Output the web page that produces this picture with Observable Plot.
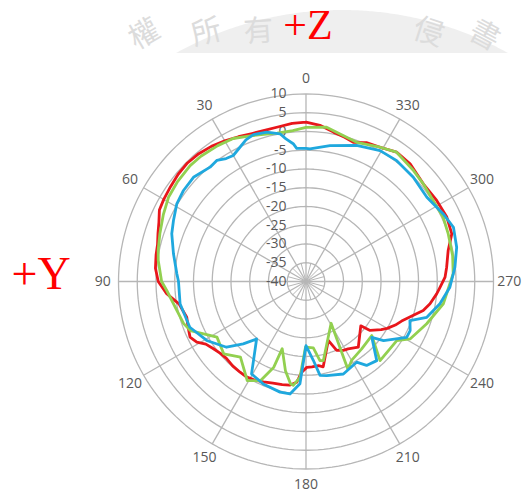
<!DOCTYPE html>
<html><head><meta charset="utf-8">
<script src="https://cdn.jsdelivr.net/npm/d3@7"></script>
<script src="https://cdn.jsdelivr.net/npm/@observablehq/plot@0.6"></script>
<style>
html,body{margin:0;padding:0;background:#fff;}
#chart{position:absolute;left:0;top:0;}
</style>
</head><body><div id="chart"></div>
<script>
// ---- data ----
const ringTicks = [-40, -35, -30, -25, -20, -15, -10, -5, 0, 5, 10];
const angleTicks = [0, 30, 60, 90, 120, 150, 180, 210, 240, 270, 300, 330];
const seriesNames = ["Series 1", "Series 2", "Series 3"];
const seriesColors = ["#e8161b", "#92d050", "#1fa8de"];
const axisTitles = ["+Z", "+Y"];
const watermarkChars = ["權", "所", "有", "侵", "書"];

const redAngle = [0,5,10,15,20,25,30,35,40,45,50,55,60,64,68,72,76,80,85,90,95,100,106.7,111,115.6,119,122,126,130,134,139,144,148,151.8,157,162,167,171,174.7,177.3,180.5,184,188.5,191.4,200.7,204,208.4,212,218.5,231,232.6,237.4,240,244,247.5,253.7,256.1,259.8,264.6,267.6,271.8,275.8,282.3,288.1,294.6,301.8,309.8,318.5,325,331.1,336.5,341.2,345,349.6,354.9,360];
const redValue = [2.5,2.3,1.9,1.8,2.0,2.6,3.3,4.0,4.5,4.7,4.5,4.1,3.8,3.5,2.3,1.5,0.8,0.6,0.3,-0.6,-2.7,-5.6,-6.8,-6.3,-5.7,-6.7,-8.5,-9.5,-10.2,-10.5,-10.2,-10.1,-10.0,-10.3,-10.9,-11.5,-11.8,-12.0,-13.0,-15.8,-17.1,-17.2,-17.3,-16.8,-23.2,-19.9,-19.1,-18.8,-17.6,-21.2,-18.5,-16.2,-15.0,-13.5,-12.4,-9.3,-7.8,-6.4,-5.0,-4.2,-2.9,-2.3,-1.2,0.9,1.3,1.0,0.7,1.9,2.1,0.9,0.4,-0.8,-0.2,0.5,1.8,2.5];

const greenAngle = [0,5,11,16,21,27,33,40,45,52,58.5,65,71.9,78,81.9,90,93.7,102.6,109,113,122,131.3,139.1,149.3,155.3,159.4,160.5,167,171.4,173,176.4,179.6,186.3,190,192.4,211,205.5,210,219.6,230.6,223.1,236.9,241.1,250.7,260.8,273,280,288.5,295.1,302.5,309.8,315.9,325,331.1,340,347,352.4,360];
const greenValue = [1.1,0.4,0.3,0.8,1.6,2.8,3.2,3.6,3.7,3.4,3.0,2.0,1.0,0.3,-0.2,-1.5,-2.8,-4.7,-5.5,-6.5,-12.0,-10.8,-13.3,-9.3,-10.9,-15.6,-21.0,-15.6,-12.4,-12.1,-14.4,-22.5,-22.2,-18.6,-18.4,-27.0,-14.0,-15.7,-16.7,-17.3,-11.1,-11.1,-8.3,-5.9,-2.9,-0.7,-0.3,0.0,0.4,0.2,0.7,1.2,2.1,0.9,-0.5,0.4,1.5,1.1];

const blueAngle = [0,4,5.3,8,10,14.7,19.7,23,26.2,30,33,36.4,40,47.2,53.4,59,65.3,70.4,78.2,86.6,90,100,111.5,120.7,129.6,134.8,139.3,149.5,157.3,166.8,171.9,176.6,180,185.3,188.5,192.4,202,212.1,215.8,221.8,229.7,232.7,241,244.8,249.4,253.5,260.6,267.7,275.5,282.8,290.2,296.2,304.9,314.2,323.1,330.5,339.6,350,358.3,360];
const blueValue = [-4.5,-4.4,-3.1,-1.6,0.0,1.2,1.6,1.0,-0.1,-1.2,-0.9,0.1,-0.2,0.9,0.7,0.2,-1.1,-2.0,-3.9,-5.5,-6.0,-5.9,-6.7,-9.2,-12.5,-16.4,-19.8,-11.4,-10.4,-9.7,-9.7,-12.7,-22.9,-18.9,-14.7,-14.3,-13.4,-14.6,-12.4,-11.7,-17.0,-14.0,-9.3,-9.3,-10.4,-6.4,-3.8,-1.6,-0.1,1.2,1.9,0.8,-0.7,-0.1,0.3,0.1,-1.3,-3.2,-4.6,-4.5];

// ---- geometry ----
const W = 529, H = 492;
const cx = 305.5, cy = 281, outerPx = 187.5;
const rMin = ringTicks[0], rMax = ringTicks[ringTicks.length - 1];
const ppu = outerPx / (rMax - rMin);
const toXY = (deg, v) => {
  const u = v - rMin, t = deg * Math.PI / 180;
  return {x: -u * Math.sin(t), y: u * Math.cos(t)};
};
// pixel -> data helpers for the decorative background
const px2x = px => (px - cx) / ppu, py2y = py => (cy - py) / ppu;

const rings = ringTicks.filter(t => t > rMin).flatMap(t =>
  d3.range(0, 361, 2).map(a => ({t, ...toXY(a, t)})));
const spokes = angleTicks.map(a => ({a, ...toXY(a, rMax)}));
const innerSpokes = d3.range(15, 360, 30).map(a => ({a, ...toXY(a, ringTicks[1])}));
const angleLabels = angleTicks.map(a => ({a, ...toXY(a, rMax + 4.2)}));

const series = [
  [redAngle, redValue], [greenAngle, greenValue], [blueAngle, blueValue]
].flatMap(([A, V], i) => A.map((a, j) => ({s: seriesNames[i], a, v: V[j], ...toXY(a, V[j])})));

// faint watermark band (seal arc) above the chart area
const wmCx = 342, wmCy = 352, wmR = 342, wmBottom = 53;
const wmHalf = Math.sqrt(wmR * wmR - (wmCy - wmBottom) ** 2);
const band = d3.range(wmCx - wmHalf, wmCx + wmHalf + 0.01, 2).map(px => ({
  x: px2x(px),
  y1: py2y(wmBottom),
  y2: py2y(Math.max(wmCy - Math.sqrt(Math.max(0, wmR * wmR - (px - wmCx) ** 2)), 0))
}));
const wmPos = [[144, 34, -30], [206, 32, -14], [258, 31, -4], [428, 32, 18], [484, 35, 28]];
const wm = watermarkChars.map((c, i) => ({c, x: px2x(wmPos[i][0]), y: py2y(wmPos[i][1]), r: wmPos[i][2]}));

const labelFont = "'Open Sans', 'DejaVu Sans', sans-serif";
const gridColor = "#b6b6b6";
const serif = "'Liberation Serif', 'DejaVu Serif', serif";

const chart = Plot.plot({
  width: W, height: H, margin: 0,
  x: {domain: [-cx / ppu, (W - cx) / ppu], axis: null},
  y: {domain: [-(H - cy) / ppu, cy / ppu], axis: null},
  color: {domain: seriesNames, range: seriesColors},
  style: {background: "#fff", overflow: "visible"},
  marks: [
    Plot.areaY(band, {x: "x", y1: "y1", y2: "y2", fill: "#efefef"}),
    ...wm.map(d => Plot.text([d], {x: "x", y: "y", text: "c", rotate: d.r, fontSize: 30,
      fontFamily: "'Noto Sans CJK TC', sans-serif", fill: "#dcdcdc"})),
    Plot.line(rings, {x: "x", y: "y", z: "t", stroke: gridColor, strokeWidth: 1.3}),
    Plot.link(spokes, {x1: 0, y1: 0, x2: "x", y2: "y", stroke: gridColor, strokeWidth: 1.3}),
    Plot.link(innerSpokes, {x1: 0, y1: 0, x2: "x", y2: "y", stroke: gridColor, strokeWidth: 1}),
    Plot.text(ringTicks, {x: 0, y: t => t - rMin, text: d => String(d), textAnchor: "end", dx: -19.5,
      fontSize: 14, fill: "#595959", fontFamily: labelFont}),
    Plot.text(angleLabels, {x: "x", y: "y", text: d => String(d.a), fontSize: 14, fill: "#595959", fontFamily: labelFont}),
    Plot.line(series, {x: "x", y: "y", z: "s", stroke: "s", strokeWidth: 2.8, strokeLinejoin: "round", curve: "linear"}),
    Plot.text([axisTitles[0]], {frameAnchor: "top", dx: 307.5 - W / 2, dy: 38, lineAnchor: "bottom", text: d => d,
      fontFamily: serif, fontSize: 42, fill: "#ff0000"}),
    Plot.text([axisTitles[1]], {frameAnchor: "top-left", textAnchor: "start", dx: 11, dy: 288, lineAnchor: "bottom", text: d => d,
      fontFamily: serif, fontSize: 46, fill: "#ff0000"})
  ]
});
document.getElementById("chart").appendChild(chart);
</script>
</body></html>
